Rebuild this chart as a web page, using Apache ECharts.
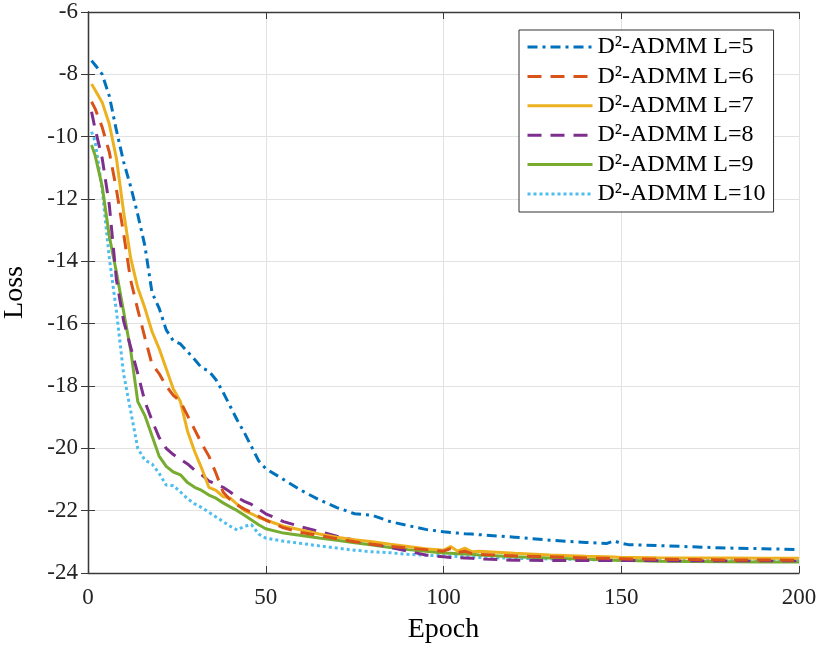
<!DOCTYPE html>
<html>
<head>
<meta charset="utf-8">
<title>Loss vs Epoch</title>
<script src="https://cdn.jsdelivr.net/npm/echarts/dist/echarts.min.js"></script>
<style>
  html, body { margin: 0; padding: 0; background: #fff; }
  #main { width: 830px; height: 651px; }
</style>
</head>
<body>
<div id="main"></div>
<script>
// epochs sampled from the plot
var epochs = [1, 2, 4, 6, 8, 10, 12, 14, 16, 18, 20, 22, 24, 26, 28, 30, 32, 34, 36, 38, 40, 42, 44, 46, 48, 50,
  55, 60, 65, 70, 75, 80, 85, 90, 95, 100, 102, 104, 106, 108, 110, 120, 130, 140, 146, 148, 150, 152,
  160, 170, 180, 190, 200];

var lossL5 = [-7.56, -7.7, -8.0, -8.7, -9.8, -10.8, -11.6, -12.5, -13.5, -15.0, -15.5, -16.2, -16.55, -16.65, -16.9, -17.15,
  -17.42, -17.52, -17.8, -18.2, -18.65, -19.1, -19.5, -19.95, -20.4, -20.65,
  -21.0, -21.35, -21.65, -21.9, -22.1, -22.15, -22.35, -22.48, -22.6, -22.68, -22.7, -22.72, -22.74, -22.75, -22.77,
  -22.85, -22.95, -23.02, -23.05, -22.97, -23.05, -23.09, -23.12, -23.16, -23.2, -23.22, -23.25];

var lossL6 = [-8.88, -9.1, -9.7, -10.5, -11.7, -13.1, -14.6, -15.55, -16.45, -17.3, -17.6, -18.0, -18.3, -18.5, -18.95, -19.4,
  -19.85, -20.25, -20.8, -21.4, -21.65, -21.82, -21.95, -22.05, -22.18, -22.3,
  -22.55, -22.7, -22.8, -22.9, -23.0, -23.08, -23.15, -23.2, -23.25, -23.3, -23.22, -23.35, -23.3, -23.38, -23.4,
  -23.45, -23.48, -23.52, -23.53, -23.54, -23.54, -23.55, -23.56, -23.57, -23.58, -23.58, -23.59];

var lossL7 = [-8.31, -8.5, -8.9, -9.6, -10.7, -12.4, -13.9, -14.85, -15.5, -16.25, -16.8, -17.45, -18.1, -18.5, -19.45, -20.1,
  -20.65, -21.25, -21.35, -21.55, -21.6, -21.8, -22.0, -22.1, -22.22, -22.3,
  -22.5, -22.62, -22.75, -22.85, -22.93, -23.0, -23.08, -23.15, -23.22, -23.27, -23.15, -23.3, -23.2, -23.32, -23.3,
  -23.37, -23.42, -23.46, -23.48, -23.49, -23.5, -23.5, -23.51, -23.52, -23.52, -23.53, -23.53];

var lossL8 = [-9.2, -9.75, -10.7, -12.2, -14.6, -15.9, -16.75, -17.6, -18.5, -19.1, -19.65, -20.0, -20.2, -20.35, -20.5, -20.7,
  -20.85, -21.05, -21.15, -21.25, -21.4, -21.58, -21.7, -21.8, -21.95, -22.1,
  -22.35, -22.52, -22.67, -22.82, -22.95, -23.07, -23.18, -23.3, -23.42, -23.48, -23.5, -23.51, -23.52, -23.53, -23.55,
  -23.59, -23.6, -23.6, -23.6, -23.6, -23.6, -23.6, -23.6, -23.61, -23.61, -23.61, -23.61];

var lossL9 = [-10.27, -10.6, -11.6, -13.2, -14.35, -15.6, -16.85, -18.5, -18.95, -19.6, -20.25, -20.58, -20.76, -20.85, -21.1, -21.25,
  -21.35, -21.5, -21.6, -21.75, -21.88, -22.0, -22.15, -22.3, -22.45, -22.58,
  -22.72, -22.8, -22.88, -22.95, -23.03, -23.1, -23.18, -23.25, -23.3, -23.36, -23.37, -23.38, -23.39, -23.4, -23.42,
  -23.48, -23.52, -23.56, -23.58, -23.59, -23.6, -23.6, -23.62, -23.63, -23.64, -23.65, -23.65];

var lossL10 = [-9.84, -10.15, -11.7, -13.9, -15.6, -17.6, -18.8, -20.0, -20.38, -20.5, -20.8, -21.18, -21.2, -21.4, -21.62, -21.78,
  -21.9, -22.05, -22.2, -22.35, -22.5, -22.62, -22.5, -22.45, -22.75, -22.88,
  -22.98, -23.05, -23.13, -23.2, -23.27, -23.32, -23.35, -23.4, -23.43, -23.45, -23.46, -23.47, -23.48, -23.49, -23.5,
  -23.53, -23.55, -23.57, -23.58, -23.58, -23.58, -23.58, -23.59, -23.6, -23.6, -23.61, -23.61];

var seriesNames = ['D²-ADMM L=5', 'D²-ADMM L=6', 'D²-ADMM L=7', 'D²-ADMM L=8', 'D²-ADMM L=9', 'D²-ADMM L=10'];
var seriesValues = [lossL5, lossL6, lossL7, lossL8, lossL9, lossL10];
var colors = ['#0072BD', '#D95319', '#EDB120', '#7E2F8E', '#77AC30', '#4DBEEE'];
var dashes = [[10, 5, 3, 5], [14, 9], 'solid', [14, 9], 'solid', [3, 3]];

var xTicks = { min: 0, max: 200, interval: 50 };
var yTicks = { min: -24, max: -6, interval: 2 };

var serif = 'Liberation Serif';
var axisColor = '#3a3a3a';

var myChart = echarts.init(document.getElementById('main'));

function pairs(vals) {
  return epochs.map(function(e, i) { return [e, vals[i]]; });
}

var series = seriesNames.map(function(name, i) {
  return {
    name: name,
    type: 'line',
    symbol: 'none',
    data: pairs(seriesValues[i]),
    lineStyle: { color: colors[i], width: 3, type: dashes[i] },
    itemStyle: { color: colors[i] },
    z: 10 - i
  };
});

var option = {
  animation: false,
  grid: { left: 88, right: 31, top: 12, bottom: 78, outerBoundsMode: 'none' },
  legend: {
    data: seriesNames,
    orient: 'vertical',
    left: 519,
    top: 30,
    padding: [5, 8, 6, 7],
    itemWidth: 65,
    itemHeight: 14,
    itemGap: 5.4,
    backgroundColor: '#fff',
    borderColor: '#333',
    borderWidth: 1,
    // hide the marker circle, keep only the line sample
    itemStyle: { opacity: 0 },
    lineStyle: { width: 3 },
    textStyle: { fontFamily: serif, fontSize: 24, lineHeight: 24, color: '#000' }
  },
  xAxis: [{
    type: 'value',
    min: xTicks.min, max: xTicks.max, interval: xTicks.interval,
    name: 'Epoch',
    nameLocation: 'middle',
    nameGap: 43,
    nameTextStyle: { fontFamily: serif, fontSize: 28, color: '#000' },
    axisLine: { onZero: false, lineStyle: { color: axisColor, width: 1.3 } },
    axisTick: { inside: true, length: 7, lineStyle: { color: axisColor } },
    axisLabel: { fontFamily: serif, fontSize: 23, color: '#222', margin: 13 },
    splitLine: { show: true, lineStyle: { color: '#e2e2e2', width: 1 } }
  }, {
    type: 'value', position: 'top',
    min: xTicks.min, max: xTicks.max, interval: xTicks.interval,
    axisLine: { show: true, lineStyle: { color: axisColor, width: 1.3 } },
    axisTick: { inside: true, length: 7, lineStyle: { color: axisColor } },
    axisLabel: { show: false },
    splitLine: { show: false }
  }],
  yAxis: [{
    type: 'value',
    min: yTicks.min, max: yTicks.max, interval: yTicks.interval,
    name: 'Loss',
    nameLocation: 'middle',
    nameGap: 59,
    nameTextStyle: { fontFamily: serif, fontSize: 28, color: '#000' },
    axisLine: { show: true, onZero: false, lineStyle: { color: axisColor, width: 1.3 } },
    axisTick: { show: true, inside: true, length: 7, lineStyle: { color: axisColor } },
    axisLabel: { fontFamily: serif, fontSize: 23, color: '#222', margin: 10 },
    splitLine: { show: true, lineStyle: { color: '#e2e2e2', width: 1 } }
  }, {
    type: 'value', position: 'right',
    min: yTicks.min, max: yTicks.max, interval: yTicks.interval,
    axisLine: { show: true, lineStyle: { color: axisColor, width: 1.3 } },
    axisTick: { show: true, inside: true, length: 7, lineStyle: { color: axisColor } },
    axisLabel: { show: false },
    splitLine: { show: false }
  }],
  series: series
};

myChart.setOption(option);
</script>
</body>
</html>
